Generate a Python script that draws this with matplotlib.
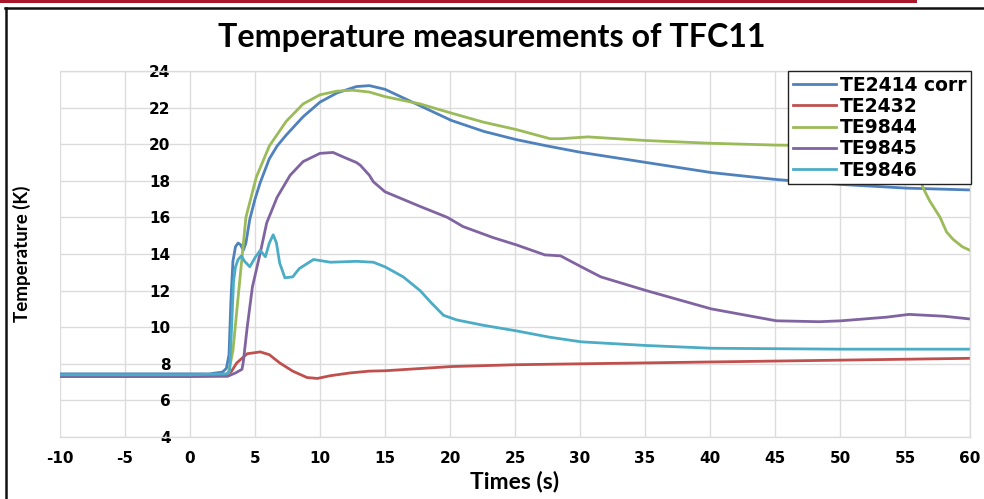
import matplotlib
matplotlib.use("Agg")
import matplotlib.pyplot as plt
from matplotlib.lines import Line2D
from matplotlib.patches import Rectangle

plt.rcParams["axes.unicode_minus"] = False

# ---------------- data ----------------
title = "Temperature measurements of TFC11"
xlabel = "Times (s)"
ylabel = "Temperature (K)"
series_names = ["TE2414 corr", "TE2432", "TE9844", "TE9845", "TE9846"]
series_colors = ["#4F81BD", "#C0504D", "#9BBB59", "#8064A2", "#4BACC6"]

t_te2414 = [-10, 0, 1.5, 2.5, 2.8, 3.0, 3.15, 3.3, 3.5, 3.7, 3.9, 4.1, 4.3, 4.6, 5.0, 5.4,
            6.1, 6.7, 7.4, 8.7, 10.0, 11.3, 12.8, 13.8, 15.0, 16.2, 17.7, 20.1, 22.6, 25.1,
            27.5, 30.1, 35.1, 40.1, 45.1, 50.1, 55.1, 60]
v_te2414 = [7.45, 7.45, 7.45, 7.55, 7.75, 8.5, 11.5, 13.6, 14.4, 14.6, 14.5, 14.2, 14.6, 15.9,
            17.0, 17.9, 19.2, 19.9, 20.5, 21.5, 22.3, 22.8, 23.15, 23.2, 23.0, 22.6, 22.1, 21.3,
            20.7, 20.25, 19.9, 19.55, 19.0, 18.45, 18.07, 17.8, 17.6, 17.5]

t_te2432 = [-10, 0, 2.8, 3.2, 3.6, 4.4, 5.4, 6.1, 6.9, 7.9, 9.0, 9.8, 10.8, 12.3, 13.8, 15.0,
            20.1, 25.1, 30.1, 35.1, 40.0, 50.1, 60]
v_te2432 = [7.3, 7.3, 7.35, 7.6, 8.05, 8.55, 8.65, 8.5, 8.05, 7.6, 7.25, 7.2, 7.35, 7.5, 7.6,
            7.62, 7.85, 7.95, 8.0, 8.05, 8.1, 8.2, 8.3]

t_te9844 = [-10, 0, 2.9, 3.3, 3.6, 4.0, 4.3, 5.1, 6.1, 7.4, 8.7, 10.0, 11.3, 12.5, 13.8, 15.0,
            17.7, 20.1, 22.6, 25.1, 27.7, 28.5, 30.6, 35.1, 40.1, 45.1, 50.1, 54.5, 55.2, 55.9,
            56.4, 56.9, 57.7, 58.2, 58.7, 59.4, 60]
v_te9844 = [7.3, 7.3, 7.3, 8.7, 10.9, 13.8, 16.0, 18.2, 19.9, 21.25, 22.2, 22.7, 22.9, 22.95,
            22.85, 22.6, 22.2, 21.7, 21.2, 20.8, 20.3, 20.3, 20.4, 20.2, 20.05, 19.95, 19.9, 19.8,
            19.4, 18.7, 17.6, 16.9, 16.0, 15.2, 14.8, 14.4, 14.2]

t_te9845 = [-10, 0, 3.0, 3.5, 4.0, 4.1, 4.4, 4.8, 5.4, 5.9, 6.7, 7.7, 8.7, 10.0, 11.0, 11.8,
            12.8, 13.1, 13.8, 14.1, 15.0, 17.7, 19.8, 21.0, 23.3, 25.1, 27.3, 28.5, 30.1, 31.6,
            35.1, 40.1, 45.1, 48.4, 50.1, 53.6, 55.3, 58.0, 60]
v_te9845 = [7.3, 7.3, 7.35, 7.5, 7.7, 8.1, 10.0, 12.2, 14.05, 15.7, 17.1, 18.3, 19.05, 19.5,
            19.55, 19.3, 19.0, 18.85, 18.3, 17.95, 17.4, 16.6, 16.0, 15.5, 14.9, 14.5, 13.95,
            13.9, 13.3, 12.75, 12.0, 11.0, 10.35, 10.3, 10.35, 10.55, 10.7, 10.6, 10.45]

t_te9846 = [-10, 0, 2.8, 3.05, 3.2, 3.35, 3.5, 3.7, 3.95, 4.2, 4.6, 5.0, 5.4, 5.8, 6.1, 6.4,
            6.65, 6.9, 7.3, 7.9, 8.4, 9.5, 10.8, 12.8, 14.1, 15.0, 16.4, 17.7, 18.6, 19.5, 20.5,
            22.6, 25.1, 27.7, 30.1, 32.6, 35.1, 40.1, 50.0, 60]
v_te9846 = [7.4, 7.4, 7.45, 7.6, 10.0, 12.5, 13.3, 13.7, 13.9, 13.6, 13.3, 13.8, 14.2, 13.85,
            14.6, 15.05, 14.6, 13.5, 12.7, 12.75, 13.2, 13.7, 13.55, 13.6, 13.55, 13.3, 12.75,
            12.0, 11.3, 10.65, 10.4, 10.1, 9.8, 9.45, 9.2, 9.1, 9.0, 8.85, 8.8, 8.8]

series_t = [t_te2414, t_te2432, t_te9844, t_te9845, t_te9846]
series_v = [v_te2414, v_te2432, v_te9844, v_te9845, v_te9846]

x_ticks = list(range(-10, 61, 5))
y_ticks = list(range(4, 25, 2))

# ---------------- figure ----------------
W, H = 984, 499
fig = plt.figure(figsize=(W / 100, H / 100), dpi=100)
fig.patch.set_facecolor("white")

left, right, top, bottom = 60, 970, 71, 437
ax = fig.add_axes([left / W, 1 - bottom / H, (right - left) / W, (bottom - top) / H])

for t, v, name, c in zip(series_t, series_v, series_names, series_colors):
    ax.plot(t, v, color=c, lw=2.0, label=name, solid_joinstyle="round")

ax.set_xlim(-10, 60)
ax.set_ylim(4, 24)
ax.set_xticks(x_ticks)
ax.set_yticks(y_ticks)
ax.grid(True, color="#DCDCDC", lw=1.0)
ax.set_axisbelow(True)

for s in ["top", "right", "bottom"]:
    ax.spines[s].set_color("#DCDCDC")
    ax.spines[s].set_linewidth(1.0)
ax.spines["left"].set_position(("data", 0))
ax.spines["left"].set_color("none")

ax.tick_params(axis="both", length=0)
ax.tick_params(axis="y", pad=14)
ax.tick_params(axis="x", pad=10)
for lab in ax.get_xticklabels() + ax.get_yticklabels():
    lab.set_fontfamily("DejaVu Sans")
    lab.set_fontweight("bold")
    lab.set_fontsize(11)

label_font = ["Lato", "DejaVu Sans"]
ax.set_xlabel(xlabel, family=label_font, weight="bold", size=16.5, va="center")
ax.xaxis.set_label_coords(0.5, (bottom - 481) / (bottom - top))
ax.set_ylabel(ylabel, family=label_font, weight="bold", size=13.5, va="center")
ax.yaxis.set_label_coords((22 - left) / (right - left), 0.5)

fig.text(492 / W, 1 - 38 / H, title, family=label_font, weight="bold", size=23.2,
         ha="center", va="center")

leg = ax.legend(loc="upper right", bbox_to_anchor=(971 / W, 1 - 71 / H),
                bbox_transform=fig.transFigure, borderaxespad=0,
                prop=dict(family="DejaVu Sans", weight="bold", size=13.5),
                frameon=True, fancybox=False, edgecolor="#222222", framealpha=1,
                handlelength=2.3, handletextpad=0.2, labelspacing=0.12,
                borderpad=0.25)
leg.get_frame().set_linewidth(1.0)

# decorative frame (slide border)
fig.patches.append(Rectangle((0, 1 - 2.5 / H), 917 / W, 2.5 / H, transform=fig.transFigure,
                             facecolor="#A8182A", edgecolor="none"))
fig.lines.append(Line2D([5 / W, 1], [1 - 8 / H, 1 - 8 / H], transform=fig.transFigure,
                        color="#111111", lw=1.8))
fig.lines.append(Line2D([6 / W, 6 / W], [0, 1 - 8 / H], transform=fig.transFigure,
                        color="#111111", lw=1.8))

fig.savefig("out.png", dpi=100)
